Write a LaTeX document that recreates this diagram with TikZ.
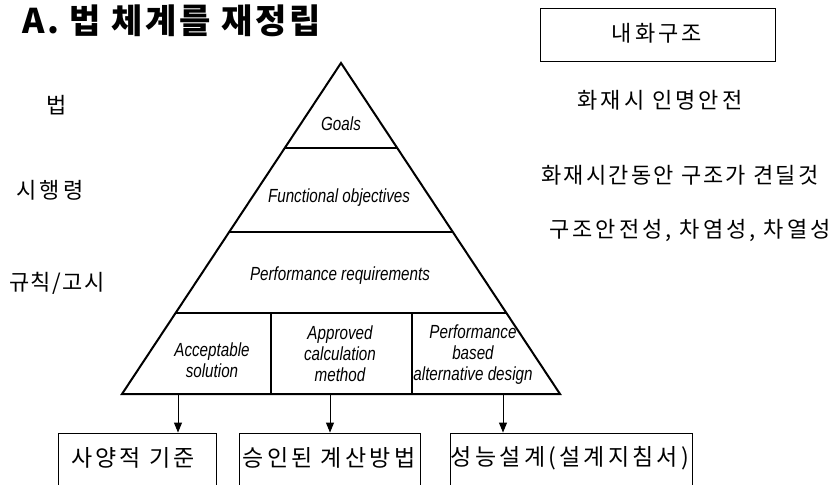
\documentclass[tikz,border=0pt]{standalone}
\usepackage{fontspec}
\newfontfamily\kr[LetterSpace=14]{Noto Sans CJK KR}
\newfontfamily\krn[LetterSpace=7]{Noto Sans CJK KR}
\newfontfamily\krm[LetterSpace=10]{Noto Sans CJK KR}
\newfontfamily\krt[LetterSpace=8]{Noto Sans CJK KR}
\newfontfamily\en[FakeStretch=0.8]{Liberation Sans}
\usetikzlibrary{arrows.meta}
\begin{document}
\begin{tikzpicture}[x=1pt,y=-1pt,
  tri/.style={line width=2pt, line join=miter},
  sep/.style={line width=2.6pt},
  kor/.style={font=\kr\fontsize{22}{26}\selectfont, inner sep=0},
  korn/.style={font=\krn\fontsize{22}{26}\selectfont, inner sep=0},
  korm/.style={font=\krm\fontsize{22}{26}\selectfont, inner sep=0},
  korb/.style={font=\kr\fontsize{23}{27}\selectfont, inner sep=0},
  eng/.style={font=\en\itshape\fontsize{19}{21}\selectfont, align=center, inner sep=0},
  boxs/.style={draw, line width=0.9pt, inner sep=0},
  arr/.style={line width=0.9pt, -{Triangle[length=10pt,width=8pt]}}]
\useasboundingbox (0,0) rectangle (839,485);
\clip (0,0) rectangle (839,485);
% title
\node[font=\krt\bfseries\fontsize{34}{40}\selectfont, inner sep=0, text height=28pt, text depth=4pt, anchor=base west] (title) at (22,33) {A. 법 체계를 재정립};
% pyramid
\coordinate (apex) at (341,63);
\coordinate (bl) at (122,394);
\coordinate (br) at (560,394);
\coordinate (l1a) at (285,148); \coordinate (l1b) at (397,148);
\coordinate (l2a) at (229,232); \coordinate (l2b) at (453,232);
\coordinate (l3a) at (176,313); \coordinate (l3b) at (506,313);
\coordinate (d1a) at (271,313); \coordinate (d1b) at (271,394);
\coordinate (d2a) at (412,313); \coordinate (d2b) at (412,394);
\draw[tri] (apex) -- (bl) -- (br) -- cycle;
\draw[sep] (l1a) -- (l1b);
\draw[sep] (l2a) -- (l2b);
\draw[sep] (l3a) -- (l3b);
\draw[tri] (d1a) -- (d1b);
\draw[tri] (d2a) -- (d2b);
% pyramid texts
\node[eng] (goals) at (341,124) {Goals};
\node[eng] (func) at (339,198) {Functional objectives};
\node[eng] (perf) at (340,276) {Performance requirements};
\node[eng] (acc) at (212,360) {Acceptable\\solution};
\node[eng] (appr) at (340,354) {Approved\\calculation\\method};
\node[eng] (pbad) at (473,355) {Performance\\based\\alternative design};
% left labels
\node[kor] (law) at (57,105) {법};
\node[kor] (decree) at (50,190) {시행령};
\node[korn] (rule) at (57,283) {규칙/고시};
% right
\node[boxs, minimum width=235pt, minimum height=53pt] (fr) at (657.5,34.5) {};
\node[kor] (frt) at (657,33) {내화구조};
\node[kor] (r1) at (660,100) {화재시 인명안전};
\node[korm] (r2) at (680,175) {화재시간동안 구조가 견딜것};
\node[kor] (r3) at (690,230) {구조안전성, 차염성, 차열성};
% bottom boxes
\node[boxs, minimum width=158pt, minimum height=80pt] (b1) at (137,473) {};
\node[boxs, minimum width=181pt, minimum height=80pt] (b2) at (329.5,473) {};
\node[boxs, minimum width=242pt, minimum height=80pt] (b3) at (571,473) {};
\node[korb] (t1) at (133,458) {사양적 기준};
\node[korb] (t2) at (329,458) {승인된 계산방법};
\node[korb] (t3) at (570,458) {성능설계(설계지침서)};
% arrows
\coordinate (a1) at (178,394);
\coordinate (a2) at (330,394);
\coordinate (a3) at (503,394);
\draw[arr] (a1) -- (a1 |- b1.north);
\draw[arr] (a2) -- (a2 |- b2.north);
\draw[arr] (a3) -- (a3 |- b3.north);
\end{tikzpicture}
\end{document}
